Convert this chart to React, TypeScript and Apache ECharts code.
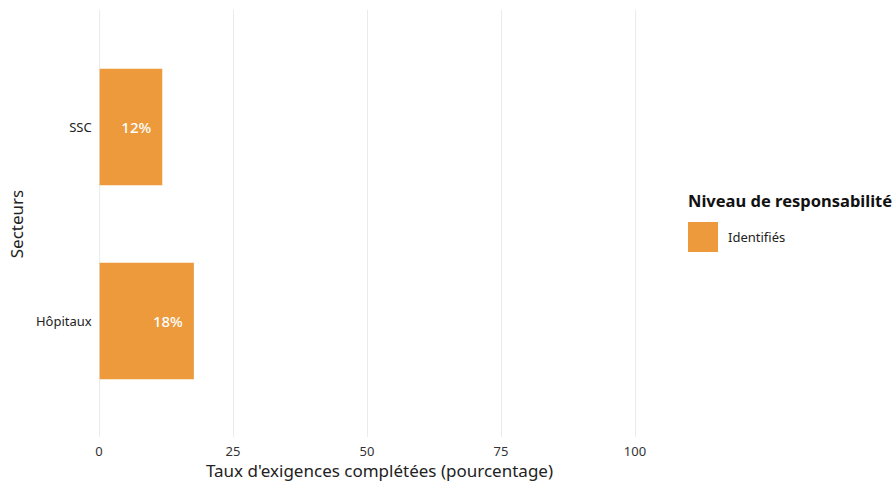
import React, { useEffect, useRef } from "react";
import * as echarts from "echarts";

const categories = ["SSC", "Hôpitaux"];
const values = [11.7, 17.6];
const xTicks = [0, 25, 50, 75, 100];
const seriesName = "Identifiés";
const legendTitle = "Niveau de responsabilité";
const xTitle = "Taux d'exigences complétées (pourcentage)";
const yTitle = "Secteurs";

const FONT = "'Noto Sans', Lato, sans-serif";
const ORANGE = "#EC9A3B";

export default function App() {
  const ref = useRef<HTMLDivElement>(null);
  useEffect(() => {
    if (!ref.current) return;
    const chart = echarts.init(ref.current, undefined, { renderer: "svg" });
    chart.setOption({
      animation: false,
      textStyle: { fontFamily: FONT },
      title: {
        text: legendTitle,
        left: 688,
        top: 192,
        padding: 0,
        textStyle: { fontFamily: FONT, fontSize: 16.5, fontWeight: "bold", color: "#111" },
      },
      legend: {
        left: 688,
        top: 222,
        padding: 0,
        itemWidth: 30,
        itemHeight: 30,
        itemGap: 10,
        icon: "rect",
        data: [seriesName],
        textStyle: { fontFamily: FONT, fontSize: 13, color: "#222", padding: [0, 0, 0, 5] },
      },
      grid: [
        { left: 99, width: 536, top: 10, height: 427 },
        { left: 99, width: 536, top: 30, height: 388 },
      ],
      xAxis: [
        {
          gridIndex: 0,
          type: "value",
          min: 0,
          max: 100,
          interval: 25,
          axisLine: { show: false },
          axisTick: { show: false },
          splitLine: { show: true, lineStyle: { color: "#EBEBEB", width: 1 } },
          axisLabel: {
            margin: 7,
            fontSize: 13,
            color: "#333",
            fontFamily: FONT,
            formatter: (v: number) => (xTicks.includes(v) ? String(v) : ""),
          },
          name: xTitle,
          nameLocation: "middle",
          nameGap: 25,
          nameTextStyle: { fontSize: 17, color: "#222", fontFamily: FONT, padding: [0, 0, 0, 25] },
        },
        {
          gridIndex: 1,
          type: "value",
          min: 0,
          max: 100,
          show: false,
        },
      ],
      yAxis: [
        {
          gridIndex: 0,
          type: "value",
          min: 0,
          max: 1,
          show: false,
        },
        {
          gridIndex: 1,
          type: "category",
          data: categories,
          inverse: true,
          axisLine: { show: false },
          axisTick: { show: false },
          splitLine: { show: false },
          axisLabel: { margin: 8, fontSize: 13, color: "#222", fontFamily: FONT },
          name: yTitle,
          nameLocation: "middle",
          nameGap: 74,
          nameRotate: 90,
          nameTextStyle: { fontSize: 17, color: "#222", fontFamily: FONT },
        },
      ],
      series: [
        {
          name: seriesName,
          type: "bar",
          xAxisIndex: 1,
          yAxisIndex: 1,
          data: values,
          barWidth: "60%",
          itemStyle: { color: ORANGE },
          label: {
            show: true,
            position: "insideRight",
            distance: 11,
            color: "#fff",
            fontSize: 15,
            fontWeight: 500,
            fontFamily: FONT,
            formatter: (p: any) => Math.round(p.value) + "%",
          },
        },
      ],
    });
    return () => chart.dispose();
  }, []);
  return <div ref={ref} style={{ width: 894, height: 489, position: "absolute", left: 0, top: 0 }} />;
}
